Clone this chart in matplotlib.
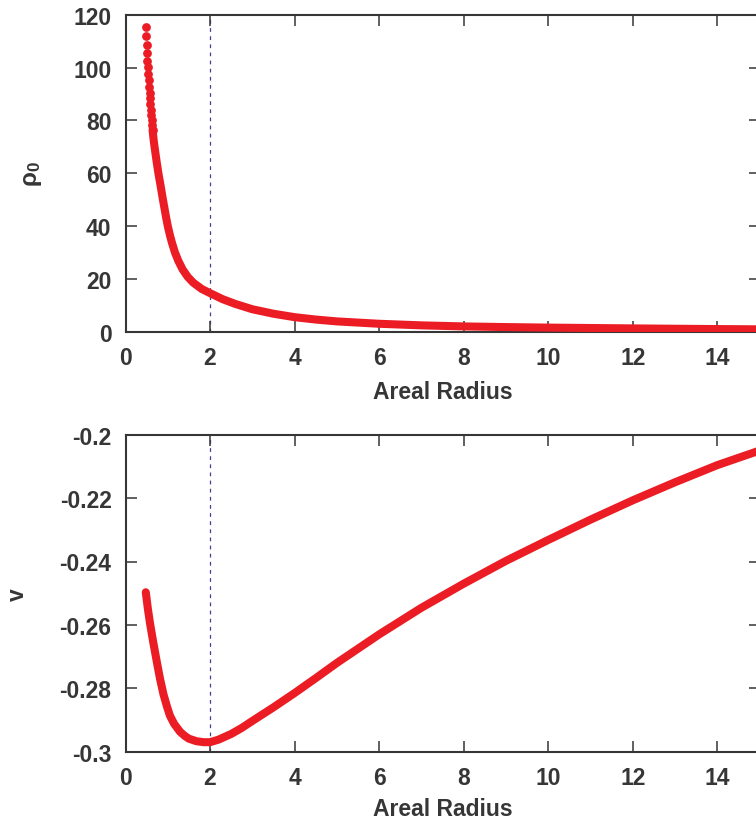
import matplotlib
matplotlib.use("Agg")
import matplotlib.pyplot as plt

# ---- data ----
# top panel: individual dots near the top of the curve
rho_dot_x = [0.48, 0.49, 0.50, 0.51, 0.52, 0.53, 0.54, 0.55, 0.56, 0.57,
             0.58, 0.59, 0.60, 0.61, 0.62, 0.63, 0.64]
rho_dot_y = [115.2, 111.8, 108.5, 105.5, 102.6, 100.1, 97.6, 95.1, 92.8, 90.5,
             88.4, 86.2, 84.0, 82.0, 80.1, 78.2, 76.4]
# top panel: rest of the (dense) curve
rho_x = [0.64, 0.67, 0.70, 0.74, 0.78, 0.83, 0.88, 0.93, 0.96, 1.00, 1.05,
         1.10, 1.17, 1.25, 1.35, 1.47, 1.60, 1.80, 2.00, 2.30, 2.60, 3.00,
         3.50, 4.00, 4.50, 5.00, 6.00, 7.00, 8.00, 9.00, 10.0, 11.0, 12.0,
         13.0, 14.0, 15.0]
rho_y = [76.4, 72.0, 68.5, 64.0, 59.8, 55.3, 50.5, 46.0, 43.3, 40.0, 36.6,
         33.6, 30.0, 26.8, 23.6, 20.8, 18.6, 16.2, 14.6, 12.3, 10.5, 8.5,
         6.8, 5.5, 4.6, 3.9, 3.0, 2.4, 2.0, 1.75, 1.55, 1.4, 1.25,
         1.12, 1.0, 0.9]

# bottom panel: velocity
v_x = [0.48, 0.53, 0.58, 0.65, 0.74, 0.82, 0.90, 0.98, 1.05, 1.15, 1.29,
       1.40, 1.50, 1.68, 1.85, 2.00, 2.20, 2.50, 2.75, 3.00, 3.50, 4.00,
       4.50, 5.00, 6.00, 7.00, 8.00, 9.00, 10.0, 11.0, 12.0, 13.0, 14.0,
       15.0]
v_y = [-0.2497, -0.2550, -0.2595, -0.2650, -0.2716, -0.2772, -0.2820,
       -0.2857, -0.2886, -0.2912, -0.2937, -0.2950, -0.2959, -0.2967,
       -0.2970, -0.2970, -0.2962, -0.2944, -0.2925, -0.2903, -0.2860,
       -0.2815, -0.2768, -0.2720, -0.2630, -0.2546, -0.2470, -0.2398,
       -0.2332, -0.2268, -0.2207, -0.2150, -0.2096, -0.2050]

x_ticks = [0, 2, 4, 6, 8, 10, 12, 14]
x_tick_labels = ["0", "2", "4", "6", "8", "10", "12", "14"]
rho_ticks = [0, 20, 40, 60, 80, 100, 120]
rho_tick_labels = ["0", "20", "40", "60", "80", "100", "120"]
v_ticks = [-0.3, -0.28, -0.26, -0.24, -0.22, -0.2]
v_tick_labels = ["-0.3", "-0.28", "-0.26", "-0.24", "-0.22", "-0.2"]
marker_x = 2.0

# ---- style ----
plt.rcParams['font.family'] = ['Liberation Sans', 'DejaVu Sans']
plt.rcParams['font.weight'] = 'bold'
plt.rcParams['mathtext.fontset'] = 'custom'
plt.rcParams['mathtext.rm'] = 'Liberation Sans'
plt.rcParams['mathtext.it'] = 'Liberation Sans'
plt.rcParams['mathtext.bf'] = 'Liberation Sans:bold'
plt.rcParams['axes.unicode_minus'] = False

TXT = '#363636'
RED = '#ec1c24'
FS = 16.5

W, H = 756, 820
fig = plt.figure(figsize=(W / 100, H / 100), dpi=100)

left = 125.5 / W
width = 634.1 / W
ax1 = fig.add_axes([left, 1 - 332.7 / H, width, 317 / H])
ax2 = fig.add_axes([left, 1 - 752.7 / H, width, 317 / H])

for ax, lp in ((ax1, 8), (ax2, 6)):
    for s in ax.spines.values():
        s.set_color(TXT)
        s.set_linewidth(1.5)
    ax.tick_params(direction='in', length=8, width=1.1, color=TXT,
                   top=True, right=True, labelsize=FS, labelcolor=TXT, pad=10)
    ax.set_xlim(0, 15)
    ax.set_xticks(x_ticks)
    ax.set_xticklabels(x_tick_labels, fontweight='bold')
    ax.set_xlabel('Areal Radius', fontsize=FS, fontweight='bold', color=TXT,
                  labelpad=lp)
    ax.axvline(marker_x, color='#40409a', lw=0.9, ls=(0, (3, 3.5)), zorder=1)

# top panel
ax1.set_ylim(0, 120)
ax1.set_yticks(rho_ticks)
ax1.set_yticklabels(rho_tick_labels, fontweight='bold')
ax1.plot(rho_x, rho_y, color=RED, lw=5.8, solid_capstyle='round',
         solid_joinstyle='round', zorder=3)
ax1.plot(rho_dot_x, rho_dot_y, 'o', color=RED, ms=6.3, mec='none', zorder=3)
ax1.set_ylabel(r'$\rho_0$', fontsize=FS + 1, color=TXT, va='center')
ax1.yaxis.set_label_coords((33 - 125.5) / 634.1, 0.5)

# bottom panel
ax2.set_ylim(-0.3, -0.2)
ax2.set_yticks(v_ticks)
ax2.set_yticklabels(v_tick_labels, fontweight='bold')
ax2.plot(v_x, v_y, color=RED, lw=5.8, solid_capstyle='round',
         solid_joinstyle='round', zorder=3)
ax2.set_ylabel('v', fontsize=FS, fontweight='bold', color=TXT, va='center')
ax2.yaxis.set_label_coords((17.5 - 125.5) / 634.1, 0.5)

fig.savefig('out.png', dpi=100)
